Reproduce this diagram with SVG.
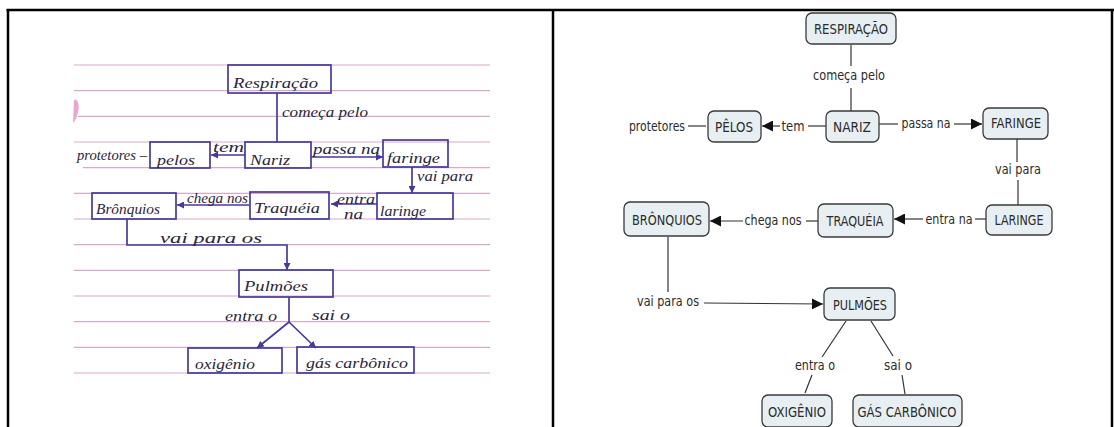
<svg xmlns="http://www.w3.org/2000/svg" width="1114" height="427" viewBox="0 0 1114 427">
<style>
.frame{stroke:#000;stroke-width:2.5;fill:none}
.rule{stroke:#d7a9cc;stroke-width:1.2}
.ink{fill:none;stroke:#47399a;stroke-width:1.7}
.hw{font-family:"Liberation Serif",serif;font-style:italic;font-size:15px;fill:#2a2440}
.nb{fill:#e8eff3;stroke:#3a3a3a;stroke-width:1.3}
.nt{font-family:"DejaVu Sans",sans-serif;font-size:14px;fill:#2b2b2b;text-anchor:middle}
.conn{stroke:#333;stroke-width:1.2;fill:none}
</style>
<defs>
<marker id="ah" markerUnits="userSpaceOnUse" markerWidth="11" markerHeight="11" viewBox="0 0 10 10" refX="10" refY="5" orient="auto"><path d="M0,0 L10,5 L0,10 z" fill="#111"/></marker>
<marker id="ih" markerUnits="userSpaceOnUse" markerWidth="7" markerHeight="7" viewBox="0 0 10 10" refX="10" refY="5" orient="auto"><path d="M0,0 L10,5 L0,10 z" fill="#47399a"/></marker>
</defs>
<rect width="1114" height="427" fill="#fff"/>
<g id="frame">
<line class="frame" x1="6.5" y1="10" x2="1114" y2="10"/>
<line class="frame" x1="8" y1="9" x2="8" y2="427"/>
<line class="frame" x1="553" y1="9" x2="553" y2="427"/>
<line class="frame" x1="1112" y1="9" x2="1112" y2="427"/>
</g>
<g id="notebook">
<g id="rules">
<line class="rule" x1="74" y1="65" x2="490" y2="65"/>
<line class="rule" x1="74" y1="90.7" x2="490" y2="90.7"/>
<line class="rule" x1="78" y1="116.3" x2="490" y2="116.3"/>
<line class="rule" x1="74" y1="142" x2="490" y2="142"/>
<line class="rule" x1="83" y1="167.7" x2="490" y2="167.7"/>
<line class="rule" x1="74" y1="193.3" x2="490" y2="193.3"/>
<line class="rule" x1="74" y1="219" x2="490" y2="219"/>
<line class="rule" x1="74" y1="244.7" x2="490" y2="244.7"/>
<line class="rule" x1="74" y1="270.3" x2="490" y2="270.3"/>
<line class="rule" x1="74" y1="296" x2="490" y2="296"/>
<line class="rule" x1="74" y1="321.7" x2="490" y2="321.7"/>
<line class="rule" x1="74" y1="347.3" x2="490" y2="347.3"/>
<line class="rule" x1="74" y1="373" x2="490" y2="373"/>
<path d="M74,100 C78,98 80,106 78,112 C77,117 75,121 73,123 Z" fill="#e9a6cf"/>
</g>
<g id="hw-connectors">
<line class="ink" x1="277" y1="93" x2="277" y2="142"/>
<line class="ink" x1="245" y1="155" x2="211" y2="155" marker-end="url(#ih)"/>
<line class="ink" x1="311" y1="157" x2="383" y2="157" marker-end="url(#ih)"/>
<line class="ink" x1="412" y1="167" x2="412" y2="193" marker-end="url(#ih)"/>
<line class="ink" x1="377" y1="204" x2="331" y2="204" marker-end="url(#ih)"/>
<line class="ink" x1="249" y1="205" x2="177" y2="205" marker-end="url(#ih)"/>
<path class="ink" d="M127,219 V245 H287 V270" marker-end="url(#ih)"/>
<line class="ink" x1="289" y1="297" x2="289" y2="322"/>
<line class="ink" x1="289" y1="322" x2="257" y2="348" marker-end="url(#ih)"/>
<line class="ink" x1="289" y1="322" x2="316" y2="348" marker-end="url(#ih)"/>
<text class="hw" x="282" y="117" textLength="86" lengthAdjust="spacingAndGlyphs">começa pelo</text>
<text class="hw" x="213" y="152" textLength="31" lengthAdjust="spacingAndGlyphs">tem</text>
<text class="hw" x="77" y="160" textLength="70" lengthAdjust="spacingAndGlyphs">protetores –</text>
<text class="hw" x="313" y="154" textLength="67" lengthAdjust="spacingAndGlyphs">passa na</text>
<text class="hw" x="417" y="181" textLength="56" lengthAdjust="spacingAndGlyphs">vai para</text>
<text class="hw" x="337" y="204" textLength="38" lengthAdjust="spacingAndGlyphs">entra</text>
<text class="hw" x="344" y="219" textLength="19" lengthAdjust="spacingAndGlyphs">na</text>
<text class="hw" x="187" y="203" textLength="61" lengthAdjust="spacingAndGlyphs">chega nos</text>
<text class="hw" x="160" y="243" textLength="102" lengthAdjust="spacingAndGlyphs">vai para os</text>
<text class="hw" x="225" y="321" textLength="52" lengthAdjust="spacingAndGlyphs">entra o</text>
<text class="hw" x="312" y="320" textLength="38" lengthAdjust="spacingAndGlyphs">sai o</text>
</g>
<g id="hw-respiracao"><rect class="ink" x="228" y="65" width="103" height="28"/><text class="hw" x="233" y="88" textLength="85" lengthAdjust="spacingAndGlyphs">Respiração</text></g>
<g id="hw-pelos"><rect class="ink" x="150" y="142" width="60" height="26"/><text class="hw" x="157" y="165" textLength="38" lengthAdjust="spacingAndGlyphs">pelos</text></g>
<g id="hw-nariz"><rect class="ink" x="245" y="142" width="66" height="26"/><text class="hw" x="250" y="165" textLength="40" lengthAdjust="spacingAndGlyphs">Nariz</text></g>
<g id="hw-faringe"><rect class="ink" x="383" y="140" width="65" height="27"/><text class="hw" x="387" y="163" textLength="53" lengthAdjust="spacingAndGlyphs">faringe</text></g>
<g id="hw-bronquios"><rect class="ink" x="92" y="193" width="84" height="26"/><text class="hw" x="96" y="214" textLength="64" lengthAdjust="spacingAndGlyphs">Brônquios</text></g>
<g id="hw-traqueia"><rect class="ink" x="250" y="192" width="79" height="27"/><text class="hw" x="254" y="213" textLength="66" lengthAdjust="spacingAndGlyphs">Traquéia</text></g>
<g id="hw-laringe"><rect class="ink" x="377" y="193" width="76" height="26"/><text class="hw" x="380" y="216" textLength="46" lengthAdjust="spacingAndGlyphs">laringe</text></g>
<g id="hw-pulmoes"><rect class="ink" x="239" y="270" width="94" height="27"/><text class="hw" x="244" y="291" textLength="64" lengthAdjust="spacingAndGlyphs">Pulmões</text></g>
<g id="hw-oxigenio"><rect class="ink" x="188" y="348" width="94" height="25"/><text class="hw" x="195" y="369" textLength="60" lengthAdjust="spacingAndGlyphs">oxigênio</text></g>
<g id="hw-gas"><rect class="ink" x="297" y="347" width="117" height="26"/><text class="hw" x="306" y="368" textLength="102" lengthAdjust="spacingAndGlyphs">gás carbônico</text></g>
</g>
<g id="connectors">
<line class="conn" x1="851" y1="45" x2="851" y2="66"/>
<line class="conn" x1="851" y1="88" x2="851" y2="111"/>
<line class="conn" x1="826" y1="126" x2="808" y2="126"/>
<line class="conn" x1="780" y1="126" x2="762" y2="126" marker-end="url(#ah)"/>
<line class="conn" x1="706" y1="126" x2="688" y2="126"/>
<line class="conn" x1="879" y1="124" x2="898" y2="124"/>
<line class="conn" x1="954" y1="124" x2="982" y2="124" marker-end="url(#ah)"/>
<line class="conn" x1="1017" y1="139" x2="1017" y2="162"/>
<line class="conn" x1="1018" y1="180" x2="1018" y2="205"/>
<line class="conn" x1="986" y1="219" x2="975" y2="219"/>
<line class="conn" x1="923" y1="219" x2="894" y2="219" marker-end="url(#ah)"/>
<line class="conn" x1="818" y1="221" x2="806" y2="221"/>
<line class="conn" x1="743" y1="221" x2="710" y2="221" marker-end="url(#ah)"/>
<line class="conn" x1="668" y1="237" x2="668" y2="292"/>
<line class="conn" x1="704" y1="303" x2="823" y2="304" marker-end="url(#ah)"/>
<line class="conn" x1="846" y1="321" x2="822" y2="357"/>
<line class="conn" x1="812" y1="375" x2="805" y2="393"/>
<line class="conn" x1="871" y1="321" x2="893" y2="356"/>
<line class="conn" x1="902" y1="375" x2="905" y2="394"/>
<text class="nt" x="849" y="80" textLength="72" lengthAdjust="spacingAndGlyphs">começa pelo</text>
<text class="nt" x="793" y="131" textLength="23" lengthAdjust="spacingAndGlyphs">tem</text>
<text class="nt" x="657" y="131" textLength="56" lengthAdjust="spacingAndGlyphs">protetores</text>
<text class="nt" x="926" y="128" textLength="49" lengthAdjust="spacingAndGlyphs">passa na</text>
<text class="nt" x="1018" y="174" textLength="46" lengthAdjust="spacingAndGlyphs">vai para</text>
<text class="nt" x="949" y="224" textLength="47" lengthAdjust="spacingAndGlyphs">entra na</text>
<text class="nt" x="773" y="225" textLength="57" lengthAdjust="spacingAndGlyphs">chega nos</text>
<text class="nt" x="668" y="306" textLength="62" lengthAdjust="spacingAndGlyphs">vai para os</text>
<text class="nt" x="815" y="370" textLength="40" lengthAdjust="spacingAndGlyphs">entra o</text>
<text class="nt" x="898" y="370" textLength="28" lengthAdjust="spacingAndGlyphs">sai o</text>
</g>
<g id="respiracao"><rect class="nb" x="806" y="13" width="90" height="31" rx="6"/><text class="nt" x="851" y="34" textLength="74" lengthAdjust="spacingAndGlyphs">RESPIRAÇÃO</text></g>
<g id="pelos"><rect class="nb" x="708" y="111" width="53" height="31" rx="6"/><text class="nt" x="734" y="132" textLength="38" lengthAdjust="spacingAndGlyphs">PÊLOS</text></g>
<g id="nariz"><rect class="nb" x="826" y="111" width="53" height="31" rx="6"/><text class="nt" x="852" y="132" textLength="38" lengthAdjust="spacingAndGlyphs">NARIZ</text></g>
<g id="faringe"><rect class="nb" x="983" y="108" width="65" height="31" rx="6"/><text class="nt" x="1016" y="128" textLength="50" lengthAdjust="spacingAndGlyphs">FARINGE</text></g>
<g id="laringe"><rect class="nb" x="986" y="205" width="66" height="30" rx="6"/><text class="nt" x="1019" y="225" textLength="49" lengthAdjust="spacingAndGlyphs">LARINGE</text></g>
<g id="traqueia"><rect class="nb" x="818" y="204" width="75" height="33" rx="6"/><text class="nt" x="855" y="226" textLength="57" lengthAdjust="spacingAndGlyphs">TRAQUÉIA</text></g>
<g id="bronquios"><rect class="nb" x="624" y="202" width="85" height="34" rx="6"/><text class="nt" x="667" y="225" textLength="70" lengthAdjust="spacingAndGlyphs">BRÔNQUIOS</text></g>
<g id="pulmoes"><rect class="nb" x="824" y="288" width="71" height="32" rx="6"/><text class="nt" x="860" y="310" textLength="54" lengthAdjust="spacingAndGlyphs">PULMÕES</text></g>
<g id="oxigenio"><rect class="nb" x="762" y="395" width="70" height="32" rx="6"/><text class="nt" x="797" y="417" textLength="58" lengthAdjust="spacingAndGlyphs">OXIGÊNIO</text></g>
<g id="gas-carbonico"><rect class="nb" x="853" y="395" width="109" height="32" rx="6"/><text class="nt" x="907" y="417" textLength="99" lengthAdjust="spacingAndGlyphs">GÁS CARBÔNICO</text></g>
</svg>
